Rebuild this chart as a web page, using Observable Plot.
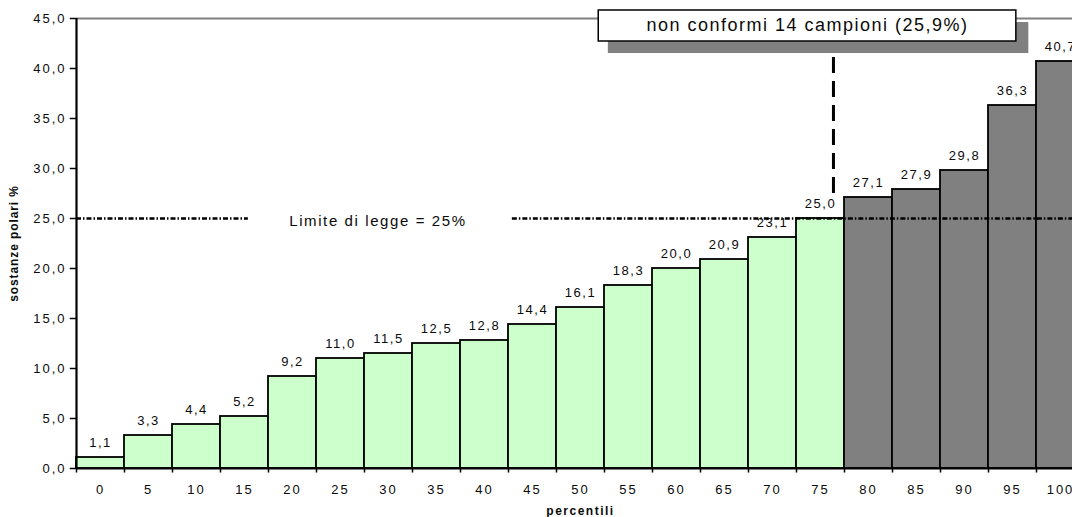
<!DOCTYPE html>
<html>
<head>
<meta charset="utf-8">
<script src="https://cdn.jsdelivr.net/npm/d3@7"></script>
<script src="https://cdn.jsdelivr.net/npm/@observablehq/plot@0.6"></script>
<style>
  html, body { margin: 0; padding: 0; background: #fff; overflow: hidden; }
  #chart { width: 1072px; height: 517px; overflow: hidden; }
  #chart svg { font-family: "Liberation Sans", Arial, sans-serif; max-width: none; }
</style>
</head>
<body>
<div id="chart"></div>
<script>
// Percentile classes of the samples and the polar-substance content at each one
const percentiles = [0, 5, 10, 15, 20, 25, 30, 35, 40, 45, 50, 55, 60, 65, 70, 75, 80, 85, 90, 95, 100];
const values = [1.1, 3.3, 4.4, 5.2, 9.2, 11.0, 11.5, 12.5, 12.8, 14.4, 16.1, 18.3, 20.0, 20.9, 23.1, 25.0, 27.1, 27.9, 29.8, 36.3, 40.7];
const yTicks = [0, 5, 10, 15, 20, 25, 30, 35, 40, 45];
const legalLimit = 25;
const firstNonCompliant = 80;
const limitLabel = "Limite di legge = 25%";
const boxLabel = "non conformi 14 campioni (25,9%)";
const yLabel = "sostanze polari %";
const xLabel = "percentili";

const data = percentiles.map((p, i) => ({p, v: values[i]}));
const half = 2.5; // half of a percentile class
const boundaries = percentiles.map(p => p - half).concat([percentiles[percentiles.length - 1] + half]);
const fmt = d => d.toFixed(1).replace(".", ",");

const ink = "#0a0a0a";
const green = "#CCFFCC";
const gray = "#808080";
const dashDot = "5,2,1.5,2";

const chart = Plot.plot({
  width: 1072,
  height: 517,
  marginLeft: 76,
  marginRight: 0,
  marginTop: 18,
  marginBottom: 49,
  x: {domain: [-2.5, 102.5], range: [76, 1084], axis: null},
  y: {domain: [0, 45], range: [468, 18], axis: null},
  marks: [
    // bars
    Plot.rect(data, {
      x1: d => d.p - half, x2: d => d.p + half, y1: 0, y2: "v",
      fill: d => d.p >= firstNonCompliant ? gray : green,
      stroke: "#000", strokeWidth: 1.8
    }),
    // top frame line
    Plot.ruleY([45], {x1: -2.5, x2: 102.5, stroke: gray, strokeWidth: 2}),
    // legal limit line, interrupted around its label
    Plot.ruleY([legalLimit], {x1: -2.5, x2: 15.4, stroke: "#000", strokeWidth: 2.4, strokeDasharray: dashDot}),
    Plot.ruleY([legalLimit], {x1: 42.9, x2: 102.5, stroke: "#000", strokeWidth: 2.4, strokeDasharray: dashDot}),
    Plot.text([limitLabel], {x: 28.9, y: legalLimit, text: d => d, dy: 3, fontSize: 15, fill: ink, ariaDescription: "limit-label"}),
    // vertical marker of the non-compliant share
    Plot.ruleX([76.35], {y1: 27.5, y2: 41.4, stroke: "#000", strokeWidth: 3, strokeDasharray: "16,8"}),
    // annotation box with shadow
    Plot.rect([boxLabel], {x1: 52.9, x2: 96.7, y1: 41.5, y2: 44.6, fill: gray}),
    Plot.rect([boxLabel], {x1: 51.9, x2: 95.4, y1: 42.7, y2: 45.8, fill: "#fff", stroke: "#000", strokeWidth: 1.5}),
    Plot.text([boxLabel], {x: 73.65, y: 44.3, text: d => d, fontSize: 18, fill: ink, ariaDescription: "box-label"}),
    // value labels
    Plot.text(data, {x: "p", y: "v", text: d => fmt(d.v), dy: -15, fontSize: 13, fill: ink, ariaDescription: "value-labels"}),
    // axes
    Plot.ruleX([-2.5], {y1: 0, y2: 45, stroke: "#000", strokeWidth: 2.2}),
    Plot.ruleY([0], {x1: -2.5, x2: 102.5, stroke: "#000", strokeWidth: 2.2}),
    Plot.ruleY(yTicks, {x1: -3.15, x2: -2.5, stroke: "#000", strokeWidth: 1.5}),
    Plot.ruleX(boundaries, {y1: 0, y2: -0.45, stroke: "#000", strokeWidth: 1.5}),
    Plot.text(yTicks, {x: -2.5, y: d => d, text: fmt, textAnchor: "end", dx: -10, fontSize: 13, fill: ink, ariaDescription: "y-ticks"}),
    Plot.text(percentiles, {x: d => d, y: 0, text: d => String(d), dy: 21, fontSize: 13, fill: ink, ariaDescription: "x-ticks"}),
    // axis titles
    Plot.text([xLabel], {x: 50, y: 0, text: d => d, dy: 43, fontSize: 12, fontWeight: "bold", fill: ink, ariaDescription: "x-title"}),
    Plot.text([yLabel], {x: -2.5, y: 22.5, text: d => d, dx: -62, rotate: -90, fontSize: 12, fontWeight: "bold", fill: ink, ariaDescription: "y-title"})
  ]
});

// letter spacing per text group
const spacing = {
  "limit-label": "1.6px", "box-label": "1.5px", "value-labels": "1.5px",
  "y-ticks": "2px", "x-ticks": "2px", "x-title": "1.5px", "y-title": "0.9px"
};
for (const [k, v] of Object.entries(spacing)) {
  d3.select(chart).selectAll(`g[aria-description="${k}"]`).style("letter-spacing", v);
}

document.getElementById("chart").appendChild(chart);
</script>
</body>
</html>
